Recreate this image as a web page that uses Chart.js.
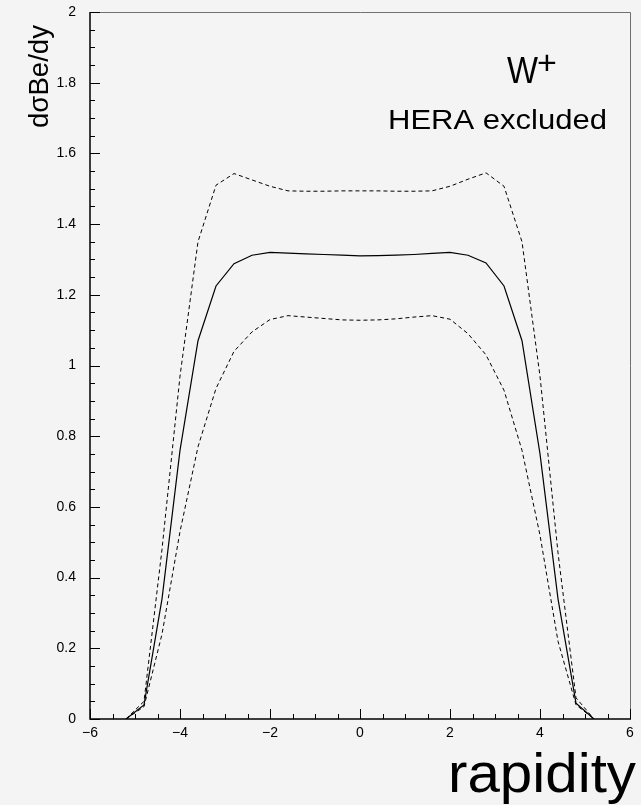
<!DOCTYPE html>
<html>
<head>
<meta charset="utf-8">
<script src="https://cdn.jsdelivr.net/npm/chart.js@4.4.1/dist/chart.umd.min.js"></script>
<style>
  html, body { margin:0; padding:0; background:#f4f4f4; }
  canvas { display:block; }
</style>
</head>
<body>
<canvas id="c" width="641" height="805"></canvas>
<script>
// ---- data ----
const rapidity = [-5.2,-4.8,-4.4,-4.0,-3.6,-3.2,-2.8,-2.4,-2.0,-1.6,-1.2,-0.8,-0.4,0,0.4,0.8,1.2,1.6,2.0,2.4,2.8,3.2,3.6,4.0,4.4,4.8,5.2];
const central  = [0,0.04,0.34,0.76,1.07,1.225,1.288,1.312,1.320,1.318,1.316,1.314,1.312,1.310,1.311,1.312,1.314,1.317,1.320,1.312,1.290,1.225,1.07,0.75,0.34,0.045,0];
const upperBand= [0,0.05,0.48,0.97,1.35,1.51,1.543,1.525,1.507,1.494,1.493,1.493,1.494,1.494,1.494,1.493,1.493,1.494,1.507,1.527,1.545,1.507,1.35,0.97,0.47,0.06,0];
const lowerBand= [0,0.035,0.24,0.53,0.77,0.935,1.04,1.095,1.130,1.141,1.137,1.133,1.129,1.128,1.129,1.132,1.137,1.141,1.131,1.09,1.03,0.93,0.76,0.52,0.22,0.04,0];
const xTickValues = [-6,-4,-2,0,2,4,6];
const xTickLabels = ['\u22126','\u22124','\u22122','0','2','4','6'];
const yTickValues = [0,0.2,0.4,0.6,0.8,1,1.2,1.4,1.6,1.8,2];
const yTickLabels = ['0','0.2','0.4','0.6','0.8','1','1.2','1.4','1.6','1.8','2'];
const yTitle = 'd\u03C3Be/dy';
const xTitle = 'rapidity';
const bosonText = 'W';
const bosonCharge = '+';
const noteText = 'HERA excluded';

const pts = arr => rapidity.map((x,i) => ({x:x, y:arr[i]}));
const FONT = '"Liberation Sans", Arial, Helvetica, sans-serif';

function labelFor(values, labels, v){
  for (let i=0;i<values.length;i++) if (Math.abs(values[i]-v) < 1e-6) return labels[i];
  return '';
}

const decor = {
  id: 'decor',
  beforeDraw(chart){
    const ctx = chart.ctx;
    ctx.save();
    ctx.fillStyle = '#f4f4f4';
    ctx.fillRect(0,0,chart.width,chart.height);
    ctx.restore();
  },
  afterDraw(chart){
    const ctx = chart.ctx;
    const a = chart.chartArea;
    const xs = chart.scales.x, ys = chart.scales.y;
    ctx.save();
    // frame top/right (grey)
    ctx.strokeStyle = '#707070';
    ctx.lineWidth = 1;
    ctx.beginPath();
    ctx.moveTo(a.left, a.top+0.5); ctx.lineTo(a.right+0.5, a.top+0.5);
    ctx.lineTo(a.right+0.5, a.bottom);
    ctx.stroke();
    // axes (black)
    ctx.strokeStyle = '#000';
    ctx.lineWidth = 1.5;
    ctx.beginPath();
    ctx.moveTo(a.left, a.top); ctx.lineTo(a.left, a.bottom); ctx.lineTo(a.right+1, a.bottom);
    ctx.stroke();
    // ticks
    ctx.lineWidth = 1;
    ctx.beginPath();
    for (let k=0;k<=24;k++){
      const v = -6 + k*0.5;
      const px = Math.round(xs.getPixelForValue(v))+0.5;
      const len = (k%4===0) ? 10 : 5;
      ctx.moveTo(px, a.bottom); ctx.lineTo(px, a.bottom-len);
    }
    for (let k=0;k<=40;k++){
      const v = k*0.05;
      const py = Math.round(ys.getPixelForValue(v))+0.5;
      const len = (k%4===0) ? 10 : 5;
      ctx.moveTo(a.left, py); ctx.lineTo(a.left+len, py);
    }
    ctx.stroke();

    ctx.fillStyle = '#000';
    // y title rotated
    ctx.save();
    ctx.font = '27px ' + FONT;
    ctx.translate(48, 128);
    ctx.rotate(-Math.PI/2);
    ctx.textAlign = 'left';
    ctx.textBaseline = 'alphabetic';
    const wY = ctx.measureText(yTitle).width;
    ctx.scale(103/wY, 1);
    ctx.fillText(yTitle, 0, 0);
    ctx.restore();

    // x title
    ctx.save();
    ctx.font = '56px ' + FONT;
    ctx.textBaseline = 'alphabetic';
    const wX = ctx.measureText(xTitle).width;
    ctx.translate(448, 792);
    ctx.scale(188/wX, 1);
    ctx.fillText(xTitle, 0, 0);
    ctx.restore();

    // W+
    ctx.save();
    ctx.textBaseline = 'alphabetic';
    ctx.font = '36px ' + FONT;
    const wW = ctx.measureText(bosonText).width;
    ctx.translate(507, 83);
    ctx.scale(31/wW, 1);
    ctx.fillText(bosonText, 0, 0);
    ctx.restore();
    ctx.save();
    ctx.font = '34px ' + FONT;
    ctx.fillText(bosonCharge, 537, 74);
    ctx.restore();

    // HERA excluded
    ctx.save();
    ctx.font = '27px ' + FONT;
    const wH = ctx.measureText(noteText).width;
    ctx.translate(388, 129);
    ctx.scale(219/wH, 1);
    ctx.fillText(noteText, 0, 0);
    ctx.restore();

    ctx.restore();
  }
};

new Chart(document.getElementById('c'), {
  type: 'line',
  data: {
    datasets: [
      { data: pts(upperBand), borderColor:'#000', borderWidth:1, borderDash:[4,3], pointRadius:0, fill:false, tension:0 },
      { data: pts(central),   borderColor:'#000', borderWidth:1.2, pointRadius:0, fill:false, tension:0 },
      { data: pts(lowerBand), borderColor:'#000', borderWidth:1, borderDash:[4,3], pointRadius:0, fill:false, tension:0 }
    ]
  },
  options: {
    responsive: false,
    animation: false,
    devicePixelRatio: 1,
    layout: { padding: { top: 12, right: 11, left: 0, bottom: 0 } },
    plugins: { legend:{display:false}, tooltip:{enabled:false}, title:{display:false} },
    scales: {
      x: {
        type: 'linear', min: -6, max: 6,
        afterFit(s){ s.height = 86; s.paddingLeft = 0; s.paddingRight = 0; },
        afterBuildTicks(s){ s.ticks = xTickValues.map(v => ({value:v})); },
        grid: { display:false, drawTicks:false },
        border: { display:false },
        ticks: {
          padding: 6, color:'#000', maxRotation:0, autoSkip:false,
          font: { family: FONT, size: 14 },
          callback: v => labelFor(xTickValues, xTickLabels, v)
        }
      },
      y: {
        type: 'linear', min: 0, max: 2,
        afterFit(s){ s.width = 90; s.paddingTop = 0; s.paddingBottom = 0; },
        afterBuildTicks(s){ s.ticks = yTickValues.map(v => ({value:v})); },
        grid: { display:false, drawTicks:false },
        border: { display:false },
        ticks: {
          padding: 14, color:'#000', autoSkip:false,
          font: { family: FONT, size: 14 },
          callback: v => labelFor(yTickValues, yTickLabels, v)
        }
      }
    }
  },
  plugins: [decor]
});
</script>
</body>
</html>
